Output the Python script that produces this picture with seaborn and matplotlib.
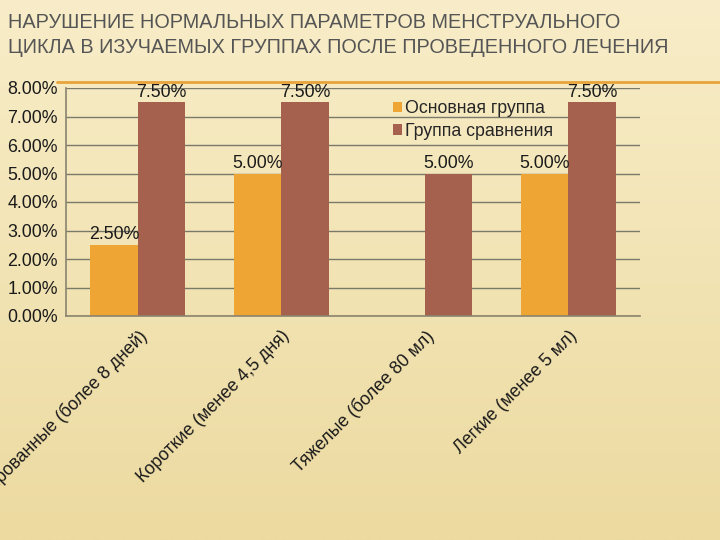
import numpy as np
import pandas as pd
import matplotlib
matplotlib.use("Agg")
import matplotlib.pyplot as plt
from matplotlib.lines import Line2D
from matplotlib.ticker import FuncFormatter, FixedLocator
from matplotlib import font_manager
import seaborn as sns

title = "НАРУШЕНИЕ НОРМАЛЬНЫХ ПАРАМЕТРОВ МЕНСТРУАЛЬНОГО\nЦИКЛА В ИЗУЧАЕМЫХ ГРУППАХ ПОСЛЕ ПРОВЕДЕННОГО ЛЕЧЕНИЯ"
categories = ["Пролонгированные (более 8 дней)", "Короткие (менее 4,5 дня)",
              "Тяжелые (более 80 мл)", "Легкие (менее 5 мл)"]
series_names = ["Основная группа", "Группа сравнения"]
main_group = [2.5, 5.0, 0.0, 5.0]
comparison_group = [7.5, 7.5, 5.0, 7.5]
colors = ["#EEA533", "#A5614E"]

sns.set_theme(style="white")
plt.rcParams['font.family'] = ['Liberation Sans', 'DejaVu Sans']

installed = {f.name for f in font_manager.fontManager.ttflist}
if "Liberation Sans Narrow" in installed:
    title_family = ["Liberation Sans Narrow", "DejaVu Sans"]
    title_size = 17
else:
    title_family = ["Liberation Sans", "DejaVu Sans"]
    title_size = 14.3

df = pd.DataFrame({
    "cat": categories * 2,
    "group": [series_names[0]] * 4 + [series_names[1]] * 4,
    "val": main_group + comparison_group,
})

fig = plt.figure(figsize=(7.2, 5.4), dpi=100)
# background gradient
bg = fig.add_axes([0, 0, 1, 1], zorder=-10)
grad = np.linspace(0, 1, 256).reshape(-1, 1)
c_top = np.array([248, 237, 200]) / 255
c_bot = np.array([236, 218, 160]) / 255
img = c_top[None, None, :] * (1 - grad[:, :, None]) + c_bot[None, None, :] * grad[:, :, None]
bg.imshow(img, aspect='auto', extent=[0, 1, 0, 1])
bg.axis('off')

ax = fig.add_axes([66/720, 1 - 316/540, 574/720, 228/540])
ax.patch.set_alpha(0)
sns.barplot(data=df, x="cat", y="val", hue="group", hue_order=series_names,
            palette=colors, width=0.66, ax=ax, saturation=1, legend=True,
            linewidth=0)

ax.set_ylim(0, 8)
ax.set_xlim(-0.5, 3.5)
ax.yaxis.set_major_locator(FixedLocator(np.arange(0, 9, 1)))
ax.yaxis.set_major_formatter(FuncFormatter(lambda v, p: f"{v:.2f}%"))
ax.yaxis.grid(True, color="#7a7a6a", lw=1.0)
ax.set_axisbelow(True)
ax.set_xlabel("")
ax.set_ylabel("")
for s in ["top", "right"]:
    ax.spines[s].set_visible(False)
for s in ["left", "bottom"]:
    ax.spines[s].set_color("#8a8470")
    ax.spines[s].set_linewidth(1.2)

ax.tick_params(axis='y', labelsize=12.8, length=4, color="#8a8470", pad=2, labelcolor="#1a1a1a")
ax.set_xticks(range(len(categories)))
ax.set_xticklabels(categories, rotation=45, ha='right', rotation_mode='anchor',
                   fontsize=12.8, color="#1a1a1a")
ax.tick_params(axis='x', length=0, pad=8)
ax.set_xticks(np.arange(-0.5, 4, 1), minor=True)
ax.tick_params(axis='x', which='minor', length=5, color="#8a8470")

for cont in ax.containers:
    labels = [f"{b.get_height():.2f}%" if b.get_height() > 0 else "" for b in cont]
    ax.bar_label(cont, labels=labels, fontsize=12.8, padding=1, color="#1a1a1a")

leg = ax.legend(loc="upper left", bbox_to_anchor=(0.548, 1.0), frameon=False,
                fontsize=12.8, handlelength=0.5, handleheight=0.5, handletextpad=0.2,
                labelspacing=0.3, borderaxespad=0.3)

fig.text(8/720, 1 - 13/540, title, ha='left', va='top', fontsize=title_size,
         family=title_family, color="#555555", linespacing=1.38)
fig.add_artist(Line2D([57/720, 1], [1 - 82/540, 1 - 82/540], color="#E8A33A", lw=2))

fig.savefig("out.png", dpi=100)
